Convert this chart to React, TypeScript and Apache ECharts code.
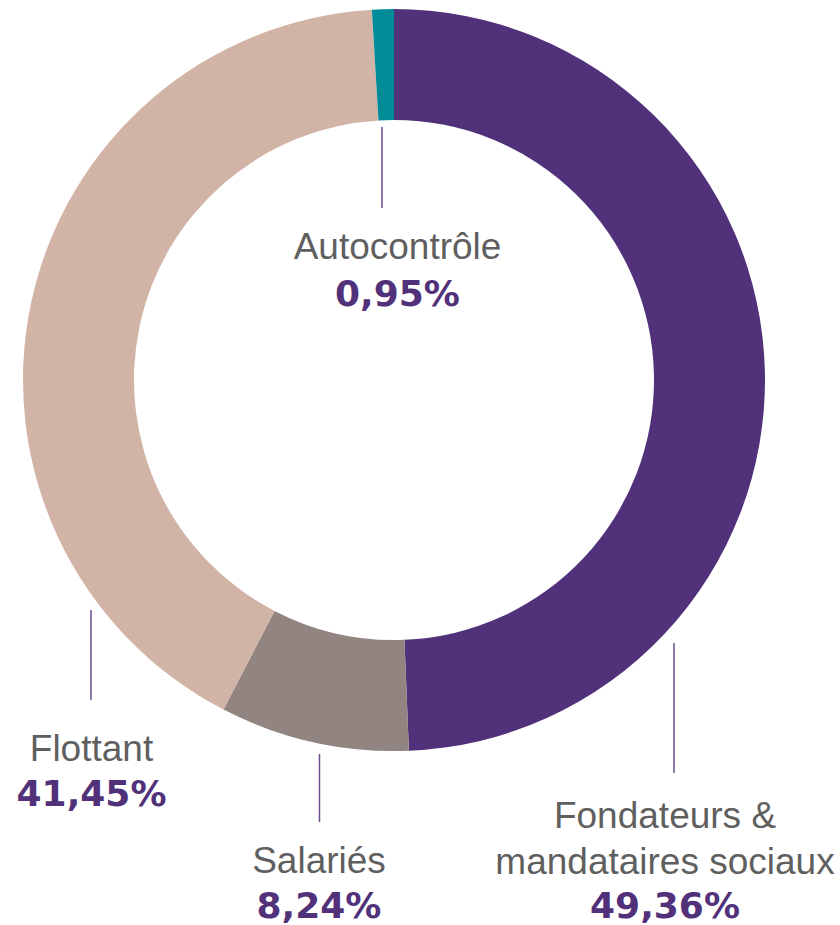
import React, { useEffect, useRef } from "react";
import * as echarts from "echarts";

const categories = ["Fondateurs & mandataires sociaux", "Salariés", "Flottant", "Autocontrôle"];
const labelLines = [["Fondateurs &", "mandataires sociaux"], ["Salariés"], ["Flottant"], ["Autocontrôle"]];
const values = [49.36, 8.24, 41.45, 0.95];
const colors = ["#51317A", "#928480", "#D2B4A6", "#008B99"];

// label layout (positions only)
const labelPos = [
  { x: 665, nameY: [815.5, 861], valY: 905, lineX: 674, lineY: [643, 773] },
  { x: 319, nameY: [860], valY: 905, lineX: 319.5, lineY: [754, 822] },
  { x: 91.5, nameY: [748.5], valY: 793.5, lineX: 91, lineY: [610, 700] },
  { x: 397.5, nameY: [246.5], valY: 293, lineX: 382, lineY: [127, 208] },
];

const fmt = (v: number) => v.toFixed(2).replace(".", ",") + "%";

export default function App() {
  const ref = useRef<HTMLDivElement>(null);
  useEffect(() => {
    document.body.style.margin = "0";
    const chart = echarts.init(ref.current!, null, { renderer: "svg" });
    const graphics: any[] = [];
    values.forEach((v, i) => {
      const p = labelPos[i];
      graphics.push({
        type: "line",
        shape: { x1: p.lineX, y1: p.lineY[0], x2: p.lineX, y2: p.lineY[1] },
        style: { stroke: "#6a4d8e", lineWidth: 1.5 },
      });
      labelLines[i].forEach((t, j) => {
        graphics.push({
          type: "text",
          x: p.x,
          y: p.nameY[j],
          style: {
            text: t,
            fill: "#5f5f5f",
            font: "37px 'Liberation Sans'",
            textAlign: "center",
            textVerticalAlign: "middle",
          },
        });
      });
      graphics.push({
        type: "text",
        x: p.x,
        y: p.valY,
        style: {
          text: fmt(v),
          fill: "#51317A",
          font: "bold 36px 'DejaVu Sans'",
          textAlign: "center",
          textVerticalAlign: "middle",
        },
      });
    });
    chart.setOption({
      animation: false,
      series: [
        {
          type: "pie",
          center: [394, 380],
          radius: [260, 371],
          startAngle: 90,
          clockwise: true,
          label: { show: false },
          labelLine: { show: false },
          silent: true,
          itemStyle: { borderWidth: 0 },
          data: categories.map((c, i) => ({
            name: c,
            value: values[i],
            itemStyle: { color: colors[i] },
          })),
        },
      ],
      graphic: graphics,
    });
    return () => chart.dispose();
  }, []);
  return <div ref={ref} style={{ width: 840, height: 925 }} />;
}
